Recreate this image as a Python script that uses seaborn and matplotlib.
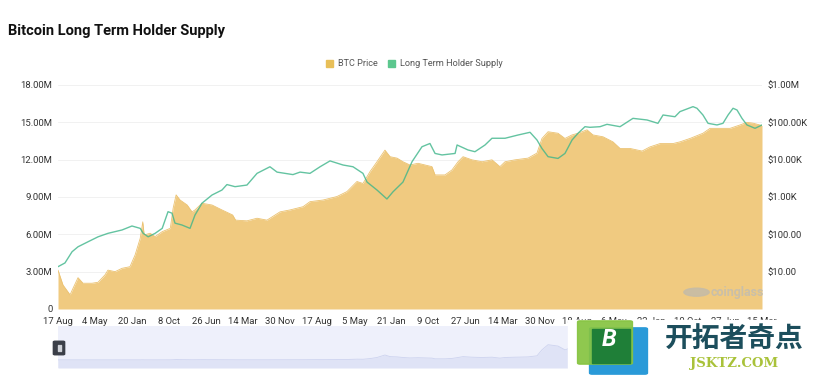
import pandas as pd
import matplotlib
matplotlib.use("Agg")
import matplotlib.pyplot as plt
from matplotlib.patches import Patch, FancyBboxPatch, Rectangle, Circle
import seaborn as sns

# BTC price (USD)
price_dates = [
    "2011-08-17", "2011-09-21", "2011-11-10", "2011-12-01", "2012-01-05", "2012-02-09",
    "2012-04-13", "2012-05-25", "2012-07-13", "2012-08-03", "2012-09-22", "2012-11-10",
    "2013-01-05", "2013-02-10", "2013-03-18", "2013-04-05", "2013-04-15", "2013-05-27",
    "2013-07-01", "2013-08-20", "2013-10-16", "2013-11-05", "2013-11-26", "2013-12-24",
    "2014-02-12", "2014-03-18", "2014-04-08", "2014-05-27", "2014-08-06", "2014-10-15",
    "2014-12-29", "2015-01-19", "2015-04-09", "2015-06-19", "2015-08-28", "2015-11-28",
    "2016-02-06", "2016-05-08", "2016-06-26", "2016-09-26", "2017-01-02", "2017-03-14",
    "2017-05-23", "2017-07-04", "2017-08-23", "2017-10-11", "2017-12-06", "2018-01-11",
    "2018-03-01", "2018-04-12", "2018-05-31", "2018-07-27", "2018-11-02", "2018-11-24",
    "2019-02-02", "2019-03-23", "2019-05-05", "2019-06-09", "2019-08-11", "2019-10-21",
    "2019-12-30", "2020-02-24", "2020-03-31", "2020-06-09", "2020-09-09", "2020-11-11",
    "2020-12-16", "2021-01-28", "2021-04-08", "2021-05-27", "2021-07-16", "2021-08-27",
    "2021-10-29", "2021-12-10", "2022-02-19", "2022-04-30", "2022-06-19", "2022-08-28",
    "2022-11-21", "2023-01-16", "2023-03-28", "2023-06-27", "2023-08-15", "2023-10-25",
    "2024-01-24", "2024-03-14", "2024-05-23", "2024-08-02", "2024-10-11", "2024-11-29",
    "2025-01-11", "2025-03-15",
]
price_values = [
    11, 4.4, 2.4, 3.6, 6.9, 4.9,
    4.9, 5.2, 8.2, 11, 10, 12.3,
    13.6, 28, 78, 216, 96, 107,
    87, 118, 145, 500, 1140, 830,
    610, 400, 450, 680, 610, 450,
    330, 240, 230, 270, 240, 400,
    450, 550, 750, 830, 1030, 1400,
    2600, 2300, 4800, 8800, 18000, 12000,
    11000, 8800, 7200, 8000, 6500, 3900,
    3900, 5300, 8800, 12000, 9900, 8800,
    9900, 6500, 8800, 9900, 11000, 15000,
    37000, 56000, 51000, 37000, 46000, 51000,
    63000, 46000, 41000, 30000, 20000, 20000,
    17000, 22000, 27000, 27000, 30000, 37000,
    51000, 69000, 69000, 69000, 85000, 100000,
    95000, 82000,
]

# Long term holder supply (millions of BTC)
lth_dates = [
    "2011-08-17", "2011-10-05", "2011-11-24", "2012-01-05", "2012-03-15", "2012-05-25",
    "2012-08-03", "2012-11-10", "2013-01-19", "2013-03-18", "2013-04-08", "2013-05-13",
    "2013-07-01", "2013-08-20", "2013-09-30", "2013-10-28", "2013-11-18", "2014-01-06",
    "2014-03-04", "2014-04-08", "2014-05-27", "2014-08-06", "2014-10-15", "2014-11-19",
    "2015-01-15", "2015-04-09", "2015-06-19", "2015-09-18", "2015-11-07", "2016-02-27",
    "2016-04-17", "2016-06-26", "2016-09-05", "2016-11-14", "2017-02-14", "2017-04-25",
    "2017-07-04", "2017-08-02", "2017-10-11", "2017-12-20", "2018-02-01", "2018-04-12",
    "2018-06-15", "2018-08-24", "2018-10-19", "2018-11-24", "2019-01-12", "2019-04-14",
    "2019-04-28", "2019-07-14", "2019-09-01", "2019-11-11", "2019-12-30", "2020-03-31",
    "2020-06-30", "2020-09-23", "2020-11-11", "2020-12-16", "2021-01-28", "2021-04-08",
    "2021-05-27", "2021-07-16", "2021-08-27", "2021-10-15", "2021-11-19", "2022-01-29",
    "2022-03-19", "2022-06-19", "2022-09-18", "2022-12-26", "2023-03-13", "2023-04-18",
    "2023-07-11", "2023-08-15", "2023-11-15", "2023-12-13", "2024-01-24", "2024-02-29",
    "2024-05-02", "2024-06-13", "2024-07-19", "2024-08-23", "2024-09-20", "2024-10-25",
    "2024-11-29", "2025-01-25", "2025-03-15",
]
lth_values = [
    3.40, 3.70, 4.60, 5.00, 5.40, 5.80,
    6.08, 6.35, 6.67, 6.48, 6.08, 5.80,
    6.08, 6.48, 7.82, 7.70, 6.90, 6.75,
    6.48, 7.55, 8.50, 9.16, 9.56, 10.00,
    9.83, 9.96, 10.90, 11.43, 11.00, 10.80,
    11.00, 10.90, 11.43, 11.90, 11.57, 11.43,
    10.90, 10.20, 9.56, 8.84, 9.42, 10.20,
    11.84, 13.04, 13.30, 12.50, 12.38, 12.50,
    13.18, 12.78, 12.64, 13.18, 13.72, 13.72,
    13.98, 14.20, 13.58, 12.90, 12.24, 12.10,
    12.50, 13.58, 14.12, 14.65, 14.60, 14.65,
    14.84, 14.65, 15.32, 15.19, 14.92, 15.59,
    15.45, 15.86, 16.26, 16.13, 15.59, 14.92,
    14.79, 14.92, 15.59, 16.13, 15.99, 15.32,
    14.79, 14.52, 14.79,
]

tick_dates = [
    "2011-08-17", "2012-05-04", "2013-01-20", "2013-10-08", "2014-06-26", "2015-03-14",
    "2015-11-30", "2016-08-17", "2017-05-05", "2018-01-21", "2018-10-09", "2019-06-27",
    "2020-03-14", "2020-11-30", "2021-08-18", "2022-05-06", "2023-01-22", "2023-10-10",
    "2024-06-27", "2025-03-15",
]
tick_labels = [
    "17 Aug", "4 May", "20 Jan", "8 Oct", "26 Jun", "14 Mar", "30 Nov", "17 Aug", "5 May",
    "21 Jan", "9 Oct", "27 Jun", "14 Mar", "30 Nov", "18 Aug", "6 May", "22 Jan", "10 Oct",
    "27 Jun", "15 Mar",
]
left_ticks = [0, 3, 6, 9, 12, 15, 18]
left_labels = ["0", "3.00M", "6.00M", "9.00M", "12.00M", "15.00M", "18.00M"]
right_ticks = [10, 100, 1e3, 1e4, 1e5, 1e6]
right_labels = ["$10.00", "$100.00", "$1.00K", "$10.00K", "$100.00K", "$1.00M"]

price = pd.DataFrame({"date": pd.to_datetime(price_dates), "price": price_values})
lth = pd.DataFrame({"date": pd.to_datetime(lth_dates), "supply": lth_values})
tick_dt = pd.to_datetime(tick_dates)

sns.set_theme(style="white")
plt.rcParams["font.family"] = ["Roboto", "DejaVu Sans"]

PRICE_FILL = "#f0ca80"
LTH_COLOR = "#3db58a"
TXT = "#333333"

fig = plt.figure(figsize=(8.2, 3.78), dpi=100)
ax = fig.add_axes([58 / 820, 1 - 309 / 378, 704 / 820, 224 / 378])
ax2 = ax.twinx()
ax.set_zorder(ax2.get_zorder() + 1)
ax.patch.set_visible(False)

# price area on log axis (right)
ax2.fill_between(price["date"], 1, price["price"], color=PRICE_FILL, lw=0, zorder=2)
ax2.plot(price["date"], price["price"], color="#ebc271", lw=0.6, zorder=3)
ax2.set_yscale("log")
ax2.set_ylim(1, 1e6)
ax2.set_yticks(right_ticks)
ax2.set_yticklabels(right_labels)
ax2.minorticks_off()
ax2.set_axisbelow(True)
ax2.grid(axis="y", color="#f1f1f1", lw=0.7)

# long term holder supply (left)
sns.lineplot(data=lth, x="date", y="supply", ax=ax, color=LTH_COLOR, lw=1.0,
             alpha=0.8, legend=False)
ax.set_ylim(0, 18)
ax.set_yticks(left_ticks)
ax.set_yticklabels(left_labels)
ax.set_xlim(tick_dt[0], tick_dt[-1])
ax.set_xticks(tick_dt)
ax.set_xticklabels(tick_labels)
ax.set_xlabel("")
ax.set_ylabel("")

for a in (ax, ax2):
    for s in a.spines.values():
        s.set_visible(False)
    a.tick_params(length=0, labelsize=6.8, colors=TXT, pad=4)
ax.tick_params(axis="x", pad=6)

# watermark
ax.add_patch(Circle((0.907, 0.075), 0.018, transform=ax.transAxes, color="#c6bca6",
                    alpha=0.9, zorder=1))
ax.text(0.927, 0.075, "coinglass", transform=ax.transAxes, fontsize=9,
        fontweight="bold", color="#c9bfa9", va="center", ha="left", zorder=1)

# title + legend
fig.text(8 / 820, 1 - 31 / 378, "Bitcoin Long Term Holder Supply", fontsize=10.5,
         fontweight="bold", color="#111111", va="center", ha="left")
handles = [Patch(color="#e8bf58", label="BTC Price"),
           Patch(color="#5cc78e", label="Long Term Holder Supply")]
fig.legend(handles=handles, loc="center", bbox_to_anchor=(0.505, 1 - 64 / 378), ncol=2,
           frameon=False, fontsize=6.6, handlelength=0.8, handleheight=0.8,
           handletextpad=0.5, columnspacing=1.1, labelcolor="#555555")

# range navigator
nav = fig.add_axes([58 / 820, 1 - 368 / 378, 704 / 820, 42 / 378])
nav.set_facecolor("#eef0fb")
nav.fill_between(price["date"], -30000, price["price"], color="#dfe3f6", lw=0)
nav.plot(price["date"], price["price"], color="#cdd3ef", lw=0.6)
nav.set_ylim(-30000, 125000)
nav.set_xlim(tick_dt[0], tick_dt[-1])
nav.set_xticks([])
nav.set_yticks([])
for s in nav.spines.values():
    s.set_visible(False)
fig.add_artist(FancyBboxPatch((55 / 820, 1 - 354 / 378), 8 / 820, 12 / 378,
                              boxstyle="round,pad=0.002", transform=fig.transFigure,
                              color="#3b3f48", zorder=6))
for xx in (58, 60):
    fig.add_artist(Rectangle((xx / 820, 1 - 351 / 378), 0.8 / 820, 6 / 378,
                             transform=fig.transFigure, color="#cfd2d8", zorder=7))

# site logo overlay
fig.add_artist(Rectangle((568 / 820, 0), 252 / 820, 58 / 378, transform=fig.transFigure,
                         color="white", zorder=8))
fig.add_artist(FancyBboxPatch((592 / 820, 1 - 373 / 378), 53 / 820, 44 / 378,
                              boxstyle="round,pad=0.003", transform=fig.transFigure,
                              color="#2a9ad8", zorder=9))
fig.add_artist(FancyBboxPatch((580 / 820, 1 - 363 / 378), 50 / 820, 41 / 378,
                              boxstyle="round,pad=0.003", transform=fig.transFigure,
                              color="#86c440", alpha=0.92, zorder=10))
fig.add_artist(Rectangle((592 / 820, 1 - 363 / 378), 38 / 820, 34 / 378,
                         transform=fig.transFigure, color="#1f7f38", zorder=11))
fig.text(609 / 820, 1 - 340 / 378, "B", fontsize=17, fontweight="bold", style="italic",
         color="white", ha="center", va="center", zorder=12)
fig.text(734 / 820, 1 - 340 / 378, "开拓者奇点", fontsize=20, fontweight="bold",
         color="#1c4e5c", ha="center", va="center", zorder=12,
         family=["Noto Sans CJK SC", "DejaVu Sans"])
fig.text(734 / 820, 1 - 364 / 378, "JSKTZ.COM", fontsize=9.5, fontweight="bold",
         color="#a9c23a", ha="center", va="center", zorder=12,
         family=["DejaVu Serif"])

fig.savefig("out.png", dpi=100, facecolor="white")
